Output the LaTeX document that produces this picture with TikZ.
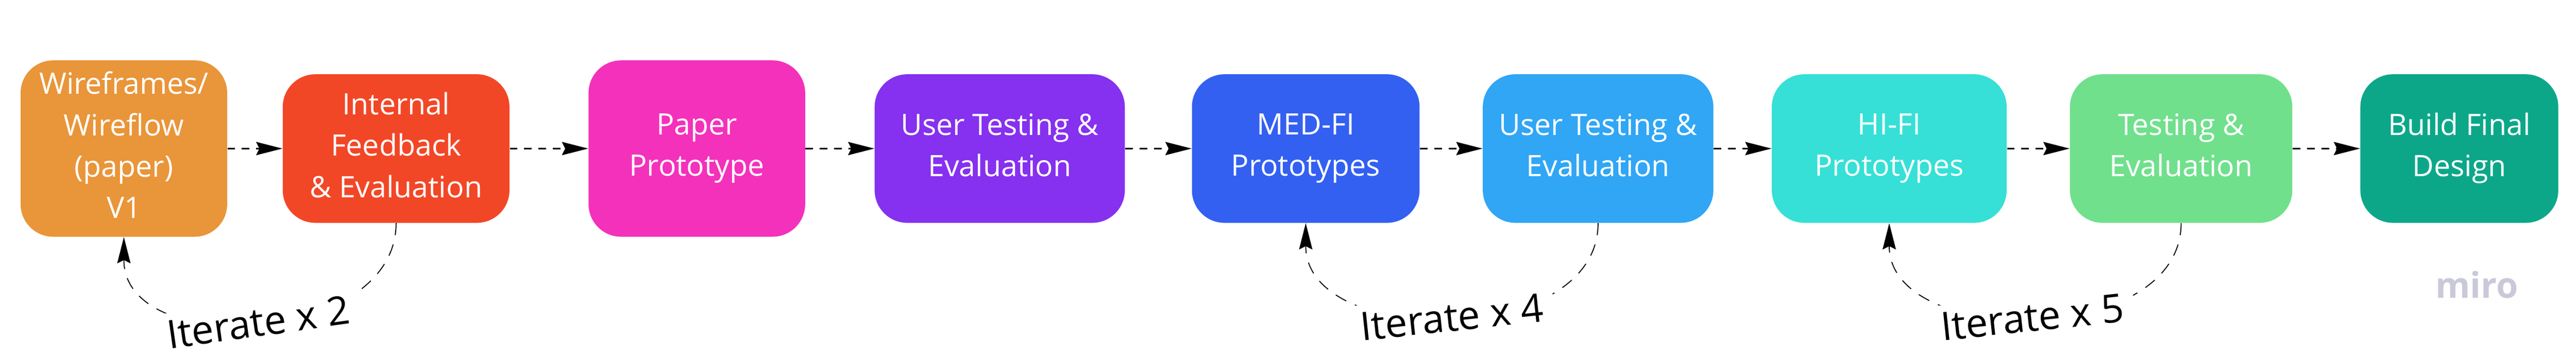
\documentclass[tikz,border=0pt]{standalone}
\usepackage{fontspec}
\setmainfont{Open Sans}
\usetikzlibrary{arrows.meta}
\definecolor{wireorange}{HTML}{E99539}
\definecolor{feedred}{HTML}{F24726}
\definecolor{papermagenta}{HTML}{F431BB}
\definecolor{testpurple}{HTML}{8630F0}
\definecolor{medblue}{HTML}{3360F1}
\definecolor{testblue}{HTML}{30A6F5}
\definecolor{hicyan}{HTML}{36E0D6}
\definecolor{testgreen}{HTML}{70E08C}
\definecolor{finalteal}{HTML}{0CA789}
\definecolor{brandgrey}{HTML}{C9C9D9}
\begin{document}
\begin{tikzpicture}[
  box/.style = {shape=rectangle, rounded corners=0.68cm, align=center,
    text=white, inner sep=0pt, minimum height=3.1cm,
    execute at begin node={\rule{0pt}{17pt}},
    execute at end node={\rule[-4.4pt]{0pt}{1pt}},
    font=\fontsize{17.5}{24.5}\selectfont},
  tallbox/.style = {box, minimum height=3.68cm},
  flow/.style = {line width=0.35mm, dash pattern=on 1.6mm off 1.4mm,
    -{Stealth[length=5.5mm,width=2.8mm,inset=0.7mm,line width=0pt]}},
  loopback/.style = {line width=0.2mm, dash pattern=on 2.5mm off 2mm,
    -{Stealth[length=5.5mm,width=2.8mm,inset=0.7mm,line width=0pt]}},
  iterlabel/.style = {fill=white, inner xsep=2.2mm, inner ysep=1.5mm,
    font=\fontsize{23.4}{28}\selectfont}]
  \useasboundingbox (0,0) rectangle (53.75,7.44);
  \node[tallbox, fill=wireorange, minimum width=4.31cm] (wire) at (2.585,4.34) {Wireframes/\\Wireflow\\(paper)\\V1};
  \node[box, fill=feedred, minimum width=4.73cm] (feedback) at (8.265,4.34) {Internal\\Feedback\\\& Evaluation};
  \node[tallbox, fill=papermagenta, minimum width=4.52cm] (paper) at (14.54,4.34) {Paper\\Prototype};
  \node[box, fill=testpurple, minimum width=5.22cm] (usertest) at (20.86,4.34) {User Testing \&\\Evaluation};
  \node[box, fill=medblue, minimum width=4.75cm] (medfi) at (27.245,4.34) {MED-FI\\Prototypes};
  \node[box, fill=testblue, minimum width=4.81cm] (usertesttwo) at (33.345,4.34) {User Testing \&\\Evaluation};
  \node[box, fill=hicyan, minimum width=4.9cm] (hifi) at (39.42,4.34) {HI-FI\\Prototypes};
  \node[box, fill=testgreen, minimum width=4.64cm] (evaluate) at (45.51,4.34) {Testing \&\\Evaluation};
  \node[box, fill=finalteal, minimum width=4.13cm] (final) at (51.315,4.34) {Build Final\\Design};
  \node[text=brandgrey, font=\fontsize{21}{24}\bfseries\selectfont] (brand) at (51.68,1.5) {miro};
  \draw[flow] (wire) -- (feedback);
  \draw[flow] (feedback) -- (paper);
  \draw[flow] (paper) -- (usertest);
  \draw[flow] (usertest) -- (medfi);
  \draw[flow] (medfi) -- (usertesttwo);
  \draw[flow] (usertesttwo) -- (hifi);
  \draw[flow] (hifi) -- (evaluate);
  \draw[flow] (evaluate) -- (final);
  \draw[loopback] (feedback.south) to[out=-90, in=-90, looseness=1.15]
    node[iterlabel, rotate=8, xshift=-0.04cm] (itertwo) {Iterate x 2} (wire.south);
  \draw[loopback] (usertesttwo.south) to[out=-90, in=-90, looseness=1.1]
    node[iterlabel, rotate=6] (iterfour) {Iterate x 4} (medfi.south);
  \draw[loopback] (evaluate.south) to[out=-90, in=-90, looseness=1.1]
    node[iterlabel, rotate=6, xshift=-0.06cm] (iterfive) {Iterate x 5} (hifi.south);
\end{tikzpicture}
\end{document}
